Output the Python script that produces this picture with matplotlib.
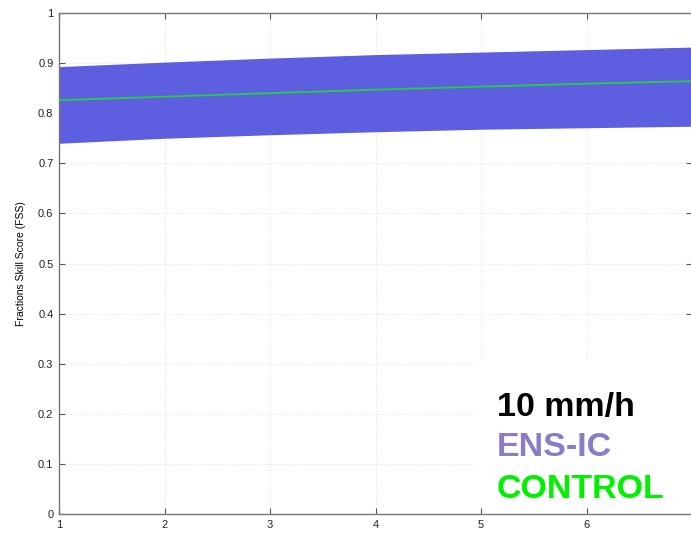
import numpy as np
import matplotlib
matplotlib.use("Agg")
import matplotlib.pyplot as plt
from matplotlib.patches import Rectangle

# данные (оценены по картинке)
lead_time = [1, 2, 3, 4, 5, 6, 7]
ens_upper = [0.893, 0.902, 0.910, 0.917, 0.922, 0.927, 0.932]
ens_lower = [0.740, 0.750, 0.757, 0.763, 0.768, 0.771, 0.774]
control = [0.826, 0.833, 0.840, 0.847, 0.853, 0.859, 0.864]

x_ticks = [1, 2, 3, 4, 5, 6]
y_ticks = [0, 0.1, 0.2, 0.3, 0.4, 0.5, 0.6, 0.7, 0.8, 0.9, 1]
y_ticklabels = ["0", "0.1", "0.2", "0.3", "0.4", "0.5", "0.6", "0.7", "0.8", "0.9", "1"]

plt.rcParams['font.family'] = ['Liberation Sans', 'DejaVu Sans']

W, H = 691, 533
fig = plt.figure(figsize=(W / 100, H / 100), dpi=100)
ax = fig.add_axes([59 / W, (H - 514) / H, (692 - 59) / W, (514 - 13) / H])

# ансамбль
ax.fill_between(lead_time, ens_lower, ens_upper, color="#5e5ee0", linewidth=0, zorder=2)
# контрольный прогноз
ax.plot(lead_time, control, color="#22d040", linewidth=1.3, zorder=3)

ax.set_xlim(1, 7)
ax.set_ylim(0, 1)
ax.set_xticks(x_ticks)
ax.set_yticks(y_ticks)
ax.set_yticklabels(y_ticklabels)
ax.tick_params(direction="in", length=4, width=0.8, labelsize=8, color="#555555",
               labelcolor="#222222", top=True, right=True, pad=4)
ax.grid(True, color="#dddddd", linestyle=(0, (1, 2)), linewidth=0.7, zorder=0)
ax.set_axisbelow(True)
for s in ax.spines.values():
    s.set_color("#777777")
    s.set_linewidth(1.0)

ax.set_ylabel("Fractions Skill Score (FSS)", fontsize=7.5, labelpad=9)

# белая подложка под надписью
fig.patches.append(Rectangle((477 / W, (H - 508) / H), (W - 477) / W, (508 - 362) / H,
                             transform=fig.transFigure, facecolor="white",
                             edgecolor="none", zorder=5))

fig.text(497 / W, (H - 416) / H, "10 mm/h", fontsize=24.5, fontweight="bold",
         color="black", zorder=6)
fig.text(497 / W, (H - 456) / H, "ENS-IC", fontsize=24.5, fontweight="bold",
         color="#8a7cc8", zorder=6)
fig.text(497 / W, (H - 498) / H, "CONTROL", fontsize=24.5, fontweight="bold",
         color="#00f000", zorder=6)

fig.savefig("out.png", dpi=100)
